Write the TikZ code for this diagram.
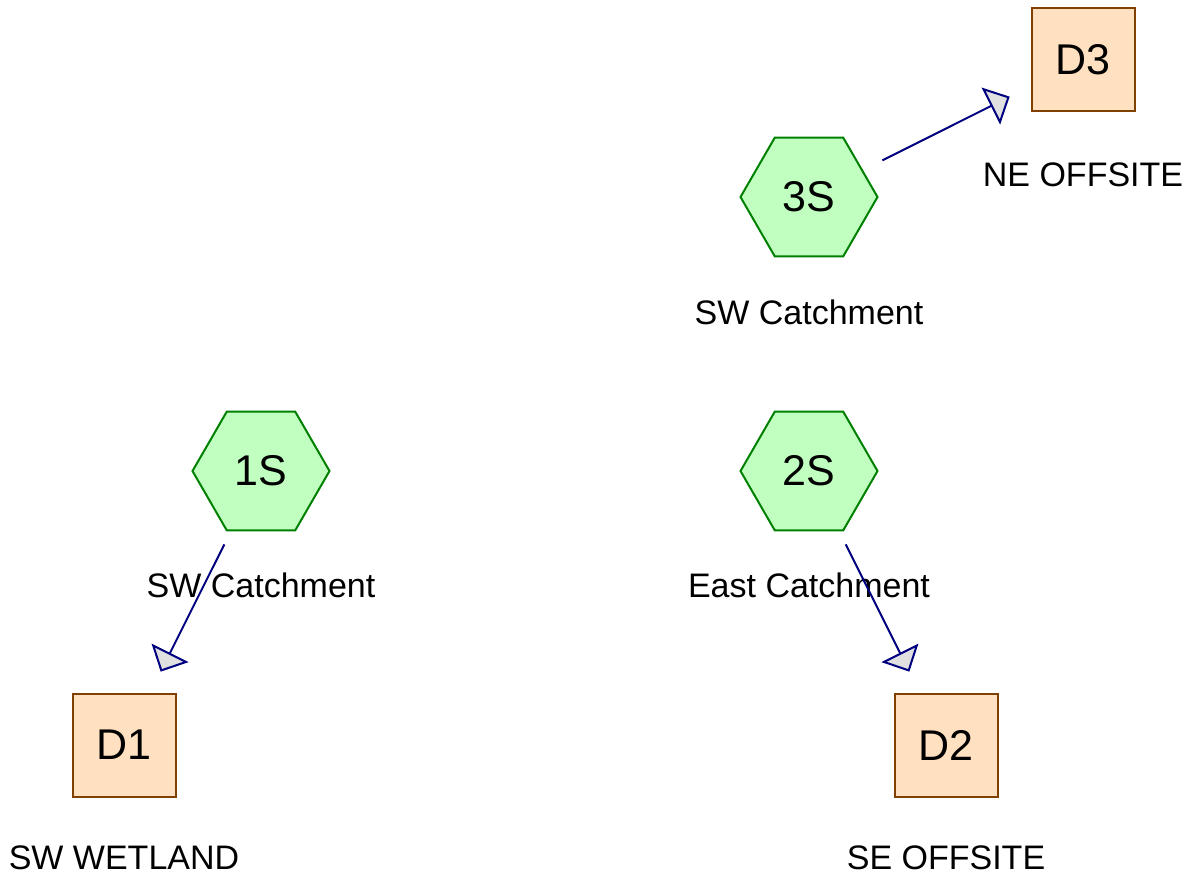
\documentclass[tikz,border=0pt]{standalone}
\usepackage{fontspec}
\setmainfont{Liberation Sans}
\usetikzlibrary{shapes.geometric,arrows.meta}
\definecolor{hexfill}{RGB}{192,255,192}
\definecolor{hexline}{RGB}{0,128,0}
\definecolor{boxfill}{RGB}{255,224,192}
\definecolor{boxline}{RGB}{128,64,0}
\definecolor{arrline}{RGB}{0,0,128}
\definecolor{arrfill}{RGB}{224,224,224}
\tikzset{
  subcat/.style={regular polygon, regular polygon sides=6, minimum size=137pt, inner sep=0pt,
    draw=hexline, fill=hexfill, line width=2pt, font=\fontsize{43}{50}\selectfont},
  linkbox/.style={rectangle, minimum size=103pt, inner sep=0pt,
    draw=boxline, fill=boxfill, line width=2pt, font=\fontsize{43}{50}\selectfont},
  lbl/.style={inner sep=0pt, font=\fontsize{34}{40}\selectfont},
  flow/.style={draw=arrline, line width=2pt, shorten <=82pt, shorten >=82pt,
    -{Triangle[open, length=21pt, width=41pt, fill=arrfill]}}
}
\begin{document}
\begin{tikzpicture}[x=1pt,y=-1pt]
\useasboundingbox (0,0) rectangle (1193,880);
\node[subcat] (s3) at (809,197) {3S};
\node[subcat] (s1) at (261,471) {1S};
\node[subcat] (s2) at (809,471) {2S};
\node[linkbox] (d3) at (1083,60) {D3};
\node[linkbox] (d1) at (124,745) {D1};
\node[linkbox] (d2) at (946,745) {D2};
\node[lbl] (l3) at (809,312) {SW Catchment};
\node[lbl] (l1) at (261,585) {SW Catchment};
\node[lbl] (l2) at (809,585) {East Catchment};
\node[lbl] (ld3) at (1083,175) {NE OFFSITE};
\node[lbl] (ld1) at (124,858) {SW WETLAND};
\node[lbl] (ld2) at (946,858) {SE OFFSITE};
\draw[flow] (s3.center) -- (d3.center);
\draw[flow] (s1.center) -- (d1.center);
\draw[flow] (s2.center) -- (d2.center);
\end{tikzpicture}
\end{document}
